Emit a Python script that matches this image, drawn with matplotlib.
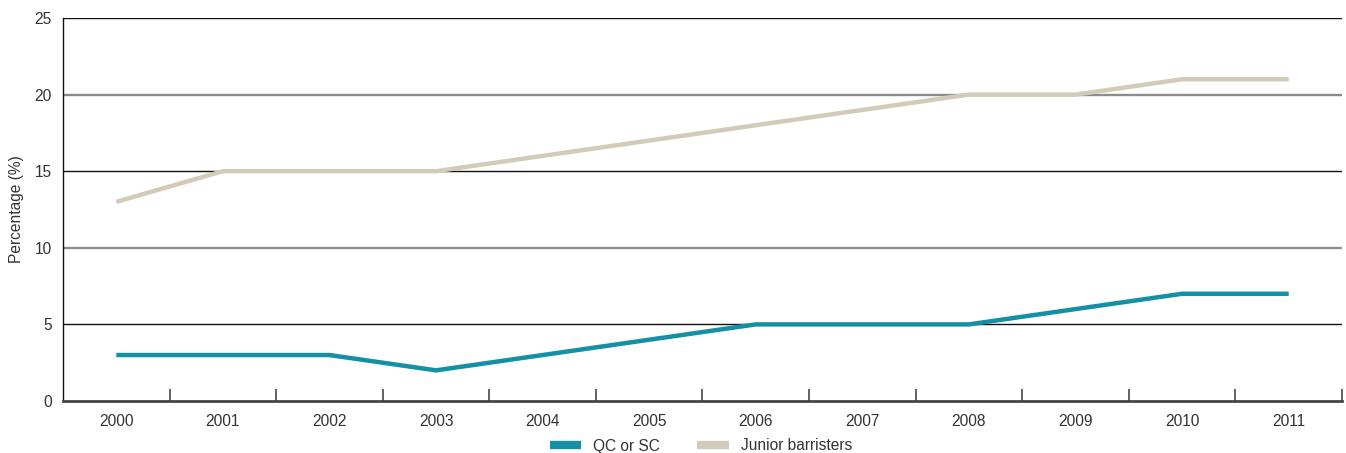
import matplotlib
matplotlib.use("Agg")
import matplotlib.pyplot as plt
import numpy as np

years = ["2000", "2001", "2002", "2003", "2004", "2005",
         "2006", "2007", "2008", "2009", "2010", "2011"]
qc_sc = [3, 3, 3, 2, 3, 4, 5, 5, 5, 6, 7, 7]
junior = [13, 15, 15, 15, 16, 17, 18, 19, 20, 20, 21, 21]
y_ticks = [0, 5, 10, 15, 20, 25]

plt.rcParams["font.family"] = ["Liberation Sans", "DejaVu Sans"]
FS = 11.2

fig = plt.figure(figsize=(13.46, 4.53), dpi=100)
ax = fig.add_axes([63 / 1346, 1 - 401 / 453, (1342 - 63) / 1346, (401 - 18) / 453])

x = np.arange(len(years))
ax.set_xlim(-0.5, len(years) - 0.5)
ax.set_ylim(0, 25)

# horizontal reference lines: odd multiples of 5 thin black, even ones grey
for v in y_ticks[1:]:
    if v % 10 == 0:
        ax.axhline(v, color="#8c8c8c", lw=1.7, zorder=1)
    else:
        ax.axhline(v, color="#111111", lw=1.0, zorder=1)

ax.plot(x, qc_sc, color="#138FA6", lw=3.2, solid_capstyle="butt", zorder=3, label="QC or SC")
ax.plot(x, junior, color="#D3CBB8", lw=3.2, solid_capstyle="butt", zorder=3, label="Junior barristers")

ax.set_yticks(y_ticks)
ax.set_yticklabels([str(v) for v in y_ticks], fontsize=FS, color="#333333")
ax.tick_params(axis="y", length=0, pad=8)

ax.set_xticks(x)
ax.set_xticklabels(years, fontsize=FS, color="#333333")
ax.tick_params(axis="x", which="major", length=0, pad=9)
ax.set_xticks(np.arange(0.5, len(years), 1.0), minor=True)
ax.tick_params(axis="x", which="minor", direction="in", length=9, width=1.3, color="#555555")

for side in ("top", "right"):
    ax.spines[side].set_visible(False)
ax.spines["left"].set_color("#111111")
ax.spines["left"].set_linewidth(1.0)
ax.spines["bottom"].set_color("#444444")
ax.spines["bottom"].set_linewidth(2.0)

ax.set_ylabel("Percentage (%)", fontsize=FS, color="#333333", labelpad=8)

handles, labels = ax.get_legend_handles_labels()
leg = fig.legend(handles, labels, loc="center", bbox_to_anchor=(701 / 1346, 1 - 446 / 453),
                 ncol=2, frameon=False, fontsize=FS, handlelength=2.0,
                 handletextpad=0.8, columnspacing=2.4)
for h in leg.get_lines():
    h.set_linewidth(6)
for t in leg.get_texts():
    t.set_color("#333333")

fig.savefig("out.png", dpi=100)
